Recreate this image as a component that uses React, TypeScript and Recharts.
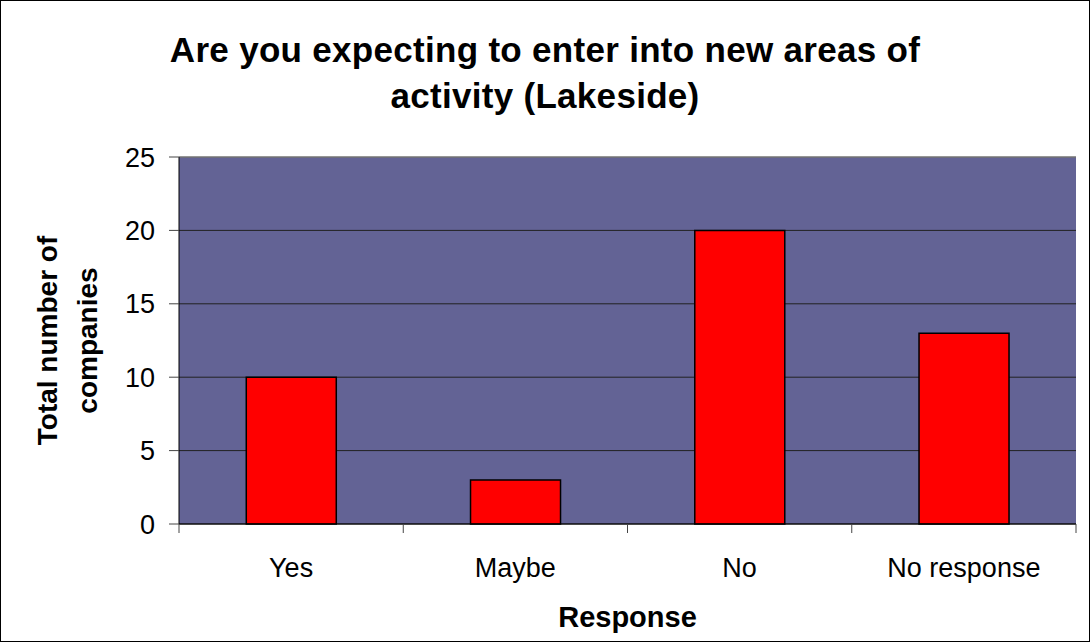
import React from "react";
import { BarChart, Bar, XAxis, YAxis, CartesianGrid, ReferenceLine } from "recharts";

const categories = ["Yes", "Maybe", "No", "No response"];
const companies = [10, 3, 20, 13];
const yTicks = [0, 5, 10, 15, 20, 25];
const titleLines = ["Are you expecting to enter into new areas of", "activity (Lakeside)"];
const yLabelLines = ["Total number of", "companies"];
const xLabel = "Response";

const FONT = "'Liberation Sans', Arial, Helvetica, sans-serif";

const data = categories.map((name, i) => ({ name, value: companies[i] }));

function YLabel(props: any) {
  const { viewBox } = props;
  const cy = viewBox.y + viewBox.height / 2;
  return (
    <g>
      {yLabelLines.map((t, i) => {
        const x = 57 + i * 40;
        return (
          <text
            key={i}
            x={x}
            y={cy}
            transform={`rotate(-90, ${x}, ${cy})`}
            textAnchor="middle"
            fontFamily={FONT}
            fontWeight="bold"
            fontSize={28}
            fill="#000"
          >
            {t}
          </text>
        );
      })}
    </g>
  );
}

function XLabel(props: any) {
  const { viewBox } = props;
  return (
    <text
      x={viewBox.x + viewBox.width / 2}
      y={viewBox.y + 103}
      textAnchor="middle"
      fontFamily={FONT}
      fontWeight="bold"
      fontSize={29}
      fill="#000"
    >
      {xLabel}
    </text>
  );
}

// category label plus the small tick marks at the band edges (Excel style)
function CatTick(props: any) {
  const { x, y, payload, index, visibleTicksCount } = props;
  const half = payload?.offset ?? 0;
  const last = index === visibleTicksCount - 1;
  return (
    <g>
      <line x1={x - half} x2={x - half} y1={y} y2={y + 9} stroke="#444" />
      {last && <line x1={x + half} x2={x + half} y1={y} y2={y + 9} stroke="#444" />}
      <text x={x} y={y + 34} dy="0.71em" textAnchor="middle" fontFamily={FONT} fontSize={27} fill="#000">
        {payload.value}
      </text>
    </g>
  );
}

export default function App() {
  return (
    <div style={{ position: "fixed", left: 0, top: 0, width: 1090, height: 642, background: "#fff" }}>
      <BarChart
        width={1090}
        height={642}
        data={data}
        margin={{ top: 157, right: 14, left: 0, bottom: 0 }}
        barCategoryGap="30%"
      >
        <CartesianGrid
          xAxisId="cat"
          yAxisId="main"
          vertical={false}
          stroke="#222"
          fill="#636395"
          fillOpacity={1}
        />
        <XAxis
          xAxisId="cat"
          dataKey="name"
          height={118}
          axisLine={{ stroke: "#000" }}
          tickLine={false}
          tickSize={0}
          tickMargin={0}
          tick={<CatTick />}
          interval={0}
          label={<XLabel />}
        />
        <YAxis
          yAxisId="main"
          domain={[0, 25]}
          ticks={yTicks}
          width={179}
          axisLine={{ stroke: "#000" }}
          tickLine={{ stroke: "#444" }}
          tickSize={10}
          tickMargin={14}
          tick={{ fontSize: 27, fill: "#000", fontFamily: FONT }}
          label={<YLabel />}
        />
        <YAxis
          yAxisId="edge"
          orientation="right"
          domain={[0, 25]}
          width={0}
          tick={false}
          tickLine={false}
          axisLine={{ stroke: "#9a9a9a" }}
        />
        <ReferenceLine yAxisId="main" xAxisId="cat" y={25} stroke="#9a9a9a" />
        <Bar
          xAxisId="cat"
          yAxisId="main"
          dataKey="value"
          fill="#ff0000"
          stroke="#000"
          strokeWidth={1.5}
          isAnimationActive={false}
        />
      </BarChart>
      <div
        style={{
          position: "absolute",
          left: 0,
          top: 27,
          width: 1090,
          textAlign: "center",
          fontFamily: FONT,
          fontWeight: "bold",
          fontSize: 35,
          letterSpacing: "0.3px",
          lineHeight: "46px",
          color: "#000",
        }}
      >
        {titleLines.map((t, i) => (
          <div key={i}>{t}</div>
        ))}
      </div>
      <div
        style={{
          position: "absolute",
          left: 0,
          top: 0,
          width: 1090,
          height: 642,
          boxSizing: "border-box",
          border: "1px solid #000",
          pointerEvents: "none",
        }}
      />
    </div>
  );
}
